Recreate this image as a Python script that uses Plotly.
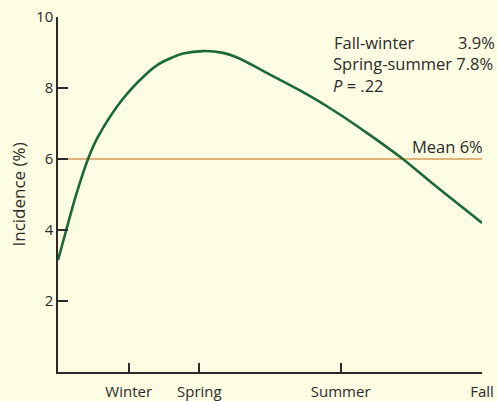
import plotly.graph_objects as go

# Season positions on x axis (month-like units from start of axis)
season_labels = ["Winter", "Spring", "Summer", "Fall"]
season_pos = [2, 4, 8, 12]

# Incidence curve (%)
curve_x = [0, 0.22, 0.5, 0.85, 1.13, 1.81, 2.46, 2.83, 3.23, 3.54, 4.10, 4.67, 5.07, 5.92, 7.05, 7.78, 8.75, 9.76, 10.61, 12]
curve_y = [3.15, 3.95, 4.95, 6.0, 6.62, 7.66, 8.36, 8.66, 8.86, 8.97, 9.04, 8.99, 8.86, 8.42, 7.82, 7.38, 6.73, 6.0, 5.3, 4.2]

mean_x = [0, 12]
mean_y = [6, 6]

y_ticks = [2, 4, 6, 8, 10]

BG = "#FDFDE3"
INK = "#2b2b2b"
FONT = "Open Sans"

fig = go.Figure()
fig.add_trace(go.Scatter(x=mean_x, y=mean_y, mode="lines",
                         line=dict(color="#D69B55", width=1.6), hoverinfo="skip"))
fig.add_trace(go.Scatter(x=curve_x, y=curve_y, mode="lines",
                         line=dict(color="#1B6A31", width=2.6, shape="spline", smoothing=1.0),
                         hoverinfo="skip"))

fig.update_layout(
    template="none",
    width=497, height=401,
    margin=dict(l=58, r=15, t=17, b=29, pad=0),
    paper_bgcolor=BG, plot_bgcolor=BG,
    showlegend=False,
    font=dict(family=FONT, size=15, color=INK),
    xaxis=dict(range=[0, 12], tickmode="array", tickvals=season_pos, ticktext=season_labels,
               ticks="inside", ticklen=9, tickwidth=1.5, tickcolor=INK, automargin=False,
               ticklabelstandoff=5,
               showline=True, linecolor=INK, linewidth=1.5, showgrid=False, zeroline=False,
               tickfont=dict(size=15, color=INK, family=FONT), fixedrange=True),
    yaxis=dict(range=[0, 10], tickmode="array", tickvals=y_ticks,
               ticks="inside", ticklen=10, tickwidth=1.5, tickcolor=INK, automargin=False,
               showline=True, linecolor=INK, linewidth=1.5, showgrid=False, zeroline=False,
               tickfont=dict(size=15, color=INK, family=FONT), fixedrange=True),
)

ann = [
    dict(text="Incidence (%)", x=(18 - 58) / 424, y=0.5, textangle=-90,
         xanchor="center", yanchor="middle", size=17),
    dict(text="Fall-winter", x=(332 - 58) / 424, y=(372 - 42) / 355, xanchor="left", yanchor="middle", size=16.5),
    dict(text="3.9%", x=(497 - 58) / 424, y=(372 - 42) / 355, xanchor="right", yanchor="middle", size=16.5),
    dict(text="Spring-summer 7.8%", x=(331 - 58) / 424, y=(372 - 63) / 355, xanchor="left", yanchor="middle", size=16.5),
    dict(text="<i>P</i> = .22", x=(331 - 58) / 424, y=(372 - 86) / 355, xanchor="left", yanchor="middle", size=16.5),
    dict(text="Mean 6%", x=(485 - 58) / 424, y=(372 - 147) / 355, xanchor="right", yanchor="middle", size=16.5),
]
for a in ann:
    size = a.pop("size")
    fig.add_annotation(xref="paper", yref="paper", showarrow=False,
                       font=dict(family=FONT, size=size, color=INK), **a)

post = ("document.body.style.margin='0';document.body.style.padding='0';"
        "document.body.style.overflow='hidden';document.body.style.background='" + BG + "';")
fig.write_html("out.html", config={"displayModeBar": False}, post_script=post)
